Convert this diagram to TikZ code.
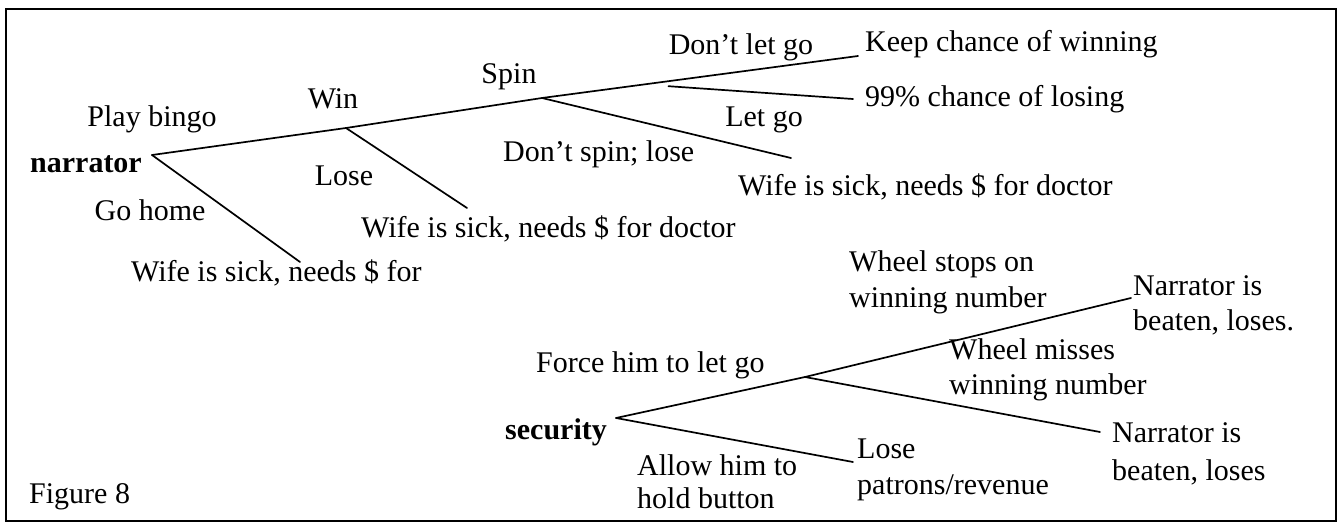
\documentclass[tikz,border=0pt]{standalone}
\usepackage{fontspec}
\setmainfont{Liberation Serif}
\usetikzlibrary{calc}
\begin{document}
\begin{tikzpicture}[x=1pt,y=-1pt,
  lbl/.style={inner sep=0pt,font=\fontsize{30}{34}\selectfont},
  lblw/.style={lbl,anchor=west,align=left},
  who/.style={lbl,font=\fontsize{30}{34}\selectfont\bfseries},
  branch/.style={line width=1.7pt,line cap=round},
  frame/.style={line width=2pt}]
\useasboundingbox (0,0) rectangle (1344,527);
\draw[frame] (6,9) rectangle (1336,521);
% ---------- narrator tree ----------
\node[who] (narrator) at (86,164) {narrator};
\coordinate (A) at (152,155);
\coordinate (B) at (346,128);
\coordinate (C) at (542,98);
\coordinate (D) at (858,56);
\coordinate (F) at (853,99);
\coordinate (G) at (791,158);
\coordinate (H) at (467,208);
\coordinate (I) at (300,262);
\node[lbl] (playbingo) at (152,119) {Play bingo};
\node[lbl] (win) at (333,99) {Win};
\node[lbl] (spin) at (509,77) {Spin};
\node[lbl] (dontletgo) at (741,47) {Don’t let go};
\node[lblw] (keep) at (865,44) {Keep chance of winning};
\node[lblw] (ninetynine) at (865,99) {99\% chance of losing};
\node[lbl] (letgo) at (764,120) {Let go};
\node[lblw] (dontspin) at (503,154) {Don’t spin; lose};
\node[lblw] (wife1) at (738,187) {Wife is sick, needs \$ for doctor};
\node[lbl] (lose) at (344,176) {Lose};
\node[lblw] (wife2) at (361,229) {Wife is sick, needs \$ for doctor};
\node[lbl] (gohome) at (150,210) {Go home};
\node[lblw] (wife3) at (131,273) {Wife is sick, needs \$ for};
\draw[branch] (A) -- (B) -- (C) -- (D);
\coordinate (E) at ($(C)!0.4!(D)+(0,5)$);
\draw[branch] (E) -- (F);
\draw[branch] (C) -- (G);
\draw[branch] (B) -- (H);
\draw[branch] (A) -- (I);
% ---------- security tree ----------
\node[who] (security) at (556,432) {security};
\coordinate (S) at (616,418);
\coordinate (T) at (805,377);
\coordinate (U) at (1131,298);
\coordinate (V) at (1100,432);
\coordinate (W) at (853,462);
\node[lblw] (force) at (536,365) {Force him to let go};
\node[lblw] (stops) at (849,282) {Wheel stops on\\[2pt]winning number};
\node[lblw] (beaten1) at (1133,305) {Narrator is\\[1pt]beaten, loses.};
\node[lblw] (misses) at (949,370) {Wheel misses\\[1pt]winning number};
\node[lblw] (beaten2) at (1112,454) {Narrator is\\[4pt]beaten, loses};
\node[lblw] (losepatrons) at (857,470) {Lose\\[2pt]patrons/revenue};
\node[lblw] (allow) at (637,482) {Allow him to\\[-1pt]hold button};
\draw[branch] (S) -- (T) -- (U);
\draw[branch] (T) -- (V);
\draw[branch] (S) -- (W);
\node[lblw] (figure) at (29,497) {Figure 8};
\end{tikzpicture}
\end{document}
